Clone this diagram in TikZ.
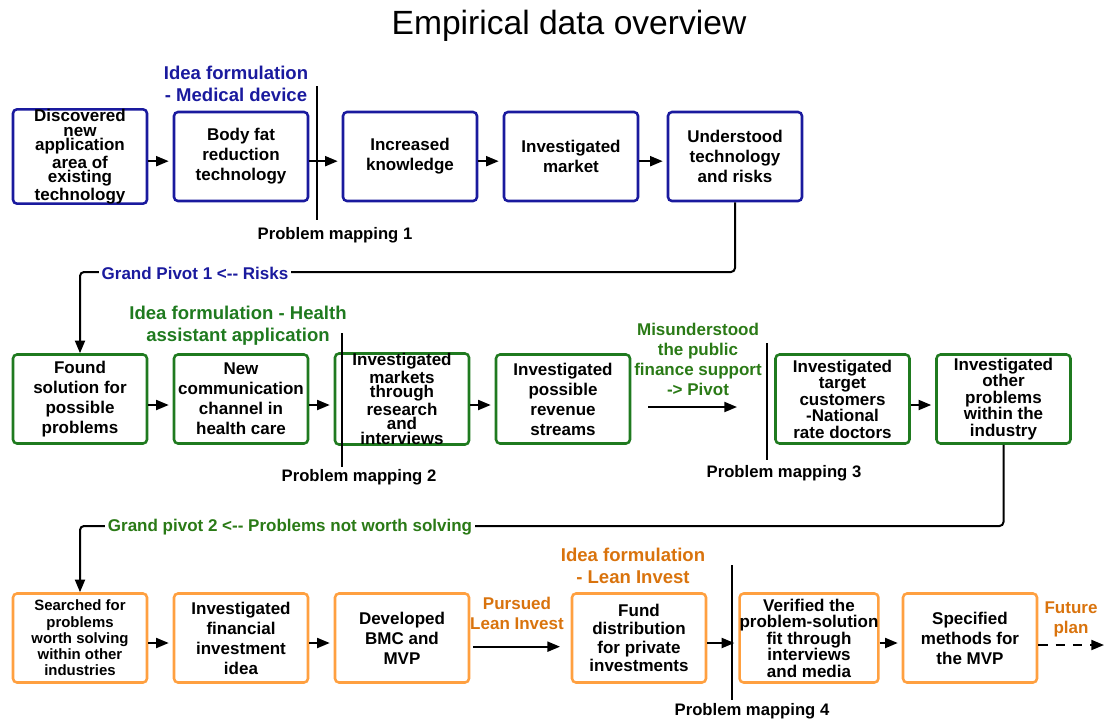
\documentclass[tikz,border=0pt]{standalone}
\usepackage{fontspec}
\setmainfont{Liberation Sans}
\usetikzlibrary{arrows.meta}
\definecolor{bl}{HTML}{1A1A9E}
\definecolor{gr}{HTML}{1F7A1F}
\definecolor{grt}{HTML}{2A7A16}
\definecolor{orb}{HTML}{FFA040}
\definecolor{ort}{HTML}{D9730D}
\begin{document}
\begin{tikzpicture}[x=0.75pt,y=-0.75pt,
  box/.style={draw, rounded corners=3pt, line width=1.9pt, minimum width=100.5pt,
    minimum height=66.75pt, inner sep=0pt, align=center, fill=white,
    font=\bfseries\fontsize{12.75}{15}\selectfont},
  tight/.style={font=\bfseries\fontsize{12.75}{11}\selectfont},
  mid/.style={font=\bfseries\fontsize{12.75}{12.4}\selectfont},
  small/.style={font=\bfseries\fontsize{11.2}{12.2}\selectfont},
  fund/.style={font=\bfseries\fontsize{12.75}{13.9}\selectfont},
  bluebox/.style={box, draw=bl},
  greenbox/.style={box, draw=gr},
  orangebox/.style={box, draw=orb},
  flow/.style={line width=1.5pt, -{Triangle[length=9.5pt,width=7.5pt]}, shorten >=3pt},
  marker/.style={line width=1.5pt},
  pm/.style={font=\bfseries\fontsize{12.5}{15}\selectfont},
  phase/.style={font=\bfseries\fontsize{13.9}{16.5}\selectfont, align=center},
  note/.style={font=\bfseries\fontsize{12.75}{15}\selectfont, align=center},
  pivot/.style={line width=1.5pt, rounded corners=3pt, -{Triangle[length=9.5pt,width=7.5pt]}},
  pivlabel/.style={fill=white, inner sep=2pt, font=\bfseries\fontsize{12.75}{15}\selectfont}
]
\useasboundingbox (0,0) rectangle (1104,719);

\node (title) at (569,26) {\fontsize{25.2}{30}\selectfont Empirical data overview};

% ---------- Row 1 ----------
\node[bluebox, tight] (r1a) at (80,156.5) {Discovered\\new\\application\\area of\\existing\\technology};
\node[bluebox] (r1b) at (241,156.5) {Body fat\\reduction\\technology};
\node[bluebox] (r1c) at (410,156.5) {Increased\\knowledge};
\node[bluebox] (r1d) at (571,156.5) {Investigated\\market};
\node[bluebox] (r1e) at (735,156.5) {Understood\\technology\\and risks};

\foreach \a/\b in {r1a/r1b, r1b/r1c, r1c/r1d, r1d/r1e}
  \draw[flow] ([yshift=-3.5pt]\a.east) -- ([yshift=-3.5pt]\b.west);

\node[phase, text=bl] (ph1) at (236,84) {Idea formulation\\- Medical device};
\coordinate (m1t) at (317,86);
\coordinate (m1b) at (317,220);
\draw[marker] (m1t) -- (m1b);
\node[pm] (pm1) at (335,235) {Problem mapping 1};

% ---------- Row 2 ----------
\node[greenbox] (r2a) at (80,399) {Found\\solution for\\possible\\problems};
\node[greenbox] (r2b) at (241,399) {New\\communication\\channel in\\health care};
\node[greenbox, tight] (r2c) at (402,399) {Investigated\\markets\\through\\research\\and\\interviews};
\node[greenbox] (r2d) at (563,399) {Investigated\\possible\\revenue\\streams};
\node[greenbox, mid] (r2e) at (842.5,399) {Investigated\\target\\customers\\-National\\rate doctors};
\node[greenbox, mid] (r2f) at (1003.5,399) {Investigated\\other\\problems\\within the\\industry};

% ---------- Grand pivot 1 ----------
\draw[pivot] (r1e.south) |- (80,272) -- (r2a.north);
\node[pivlabel, text=bl] (gp1) at (195,273) {Grand Pivot 1 <-{}- Risks};

\foreach \a/\b in {r2a/r2b, r2b/r2c, r2c/r2d, r2e/r2f}
  \draw[flow] ([yshift=-4.5pt]\a.east) -- ([yshift=-4.5pt]\b.west);

\node[phase, text=gr] (ph2) at (238,326) {Idea formulation - Health\\assistant application};
\coordinate (m2t) at (342,333);
\coordinate (m2b) at (342,467);
\draw[marker] (m2t) -- (m2b);
\node[pm] (pm2) at (359,477) {Problem mapping 2};

\node[note, text=grt] (mis) at (698,359) {Misunderstood\\the public\\finance support\\-> Pivot};
\coordinate (misa) at (648,407);
\coordinate (misb) at (737,407);
\draw[flow, shorten >=0pt] (misa) -- (misb);
\coordinate (m3t) at (767,343);
\coordinate (m3b) at (767,460);
\draw[marker] (m3t) -- (m3b);
\node[pm] (pm3) at (784,473) {Problem mapping 3};

% ---------- Row 3 ----------
\node[orangebox, small] (r3a) at (80,638) {Searched for\\problems\\worth solving\\within other\\industries};
\node[orangebox] (r3b) at (241,638) {Investigated\\financial\\investment\\idea};
\node[orangebox] (r3c) at (402,638) {Developed\\BMC and\\MVP};
\node[orangebox, fund] (r3d) at (639,638) {Fund\\distribution\\for private\\investments};
\node[orangebox, mid] (r3e) at (809,638) {Verified the\\problem-solution\\fit through\\interviews\\and media};
\node[orangebox] (r3f) at (970,638) {Specified\\methods for\\the MVP};

% ---------- Grand pivot 2 ----------
\draw[pivot] (r2f.south) |- (80,526) -- (r3a.north);
\node[pivlabel, text=grt] (gp2) at (290,527) {Grand pivot 2 <-{}- Problems not worth solving};

\foreach \a/\b in {r3a/r3b, r3b/r3c, r3d/r3e, r3e/r3f}
  \draw[flow] ([yshift=-3.75pt]\a.east) -- ([yshift=-3.75pt]\b.west);
\draw[flow, shorten <=2pt, shorten >=8pt] ([yshift=-6.5pt]r3c.east) -- ([yshift=-6.5pt]r3d.west);

\node[phase, text=ort] (ph3) at (633,566) {Idea formulation\\- Lean Invest};
\node[note, text=ort] (pur) at (517,613) {Pursued\\Lean Invest};
\coordinate (m4t) at (732,565);
\coordinate (m4b) at (732,700);
\draw[marker] (m4t) -- (m4b);
\node[pm] (pm4) at (752,711) {Problem mapping 4};

\node[note, text=ort] (fut) at (1071,619) {Future\\plan};
\coordinate (futend) at (1104,645);
\draw[flow, shorten >=0pt, dash pattern=on 7pt off 6pt] (r3f.east |- futend) -- (futend);
\end{tikzpicture}
\end{document}
